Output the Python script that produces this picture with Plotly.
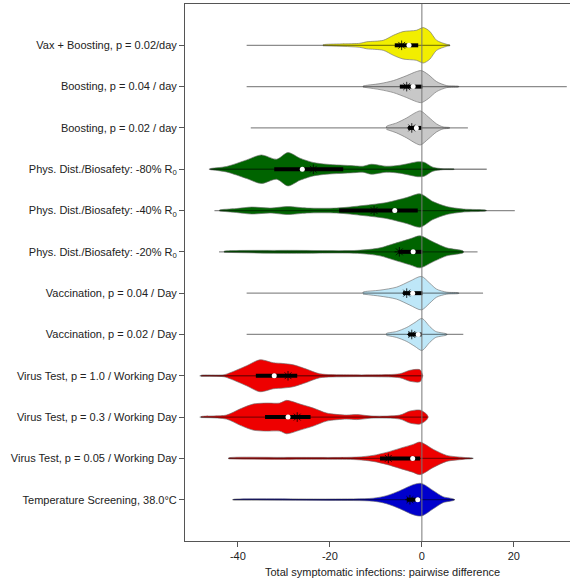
import plotly.graph_objects as go

# ---------------- data ----------------
labels = [
    "Vax + Boosting, p = 0.02/day",
    "Boosting, p = 0.04 / day",
    "Boosting, p = 0.02 / day",
    "Phys. Dist./Biosafety: -80% R<sub>0</sub>",
    "Phys. Dist./Biosafety: -40% R<sub>0</sub>",
    "Phys. Dist./Biosafety: -20% R<sub>0</sub>",
    "Vaccination, p = 0.04 / Day",
    "Vaccination, p = 0.02 / Day",
    "Virus Test, p = 1.0 / Working Day",
    "Virus Test, p = 0.3 / Working Day",
    "Virus Test, p = 0.05 / Working Day",
    "Temperature Screening, 38.0°C",
]
colors = ["#F2EE00", "#C8C8C8", "#C8C8C8", "#006400", "#006400", "#006400",
          "#BEE7F8", "#BEE7F8", "#EE0000", "#EE0000", "#EE0000", "#0000CC"]

# density profiles: x positions and relative density (peak ~ 17)
prof_x = [
    [-21.5, -13.5, -12, -8.4, -6.2, -4.1, -1.2, 0.3, 1.7, 3.2, 5.4, 6.1],
    [-12.8, -9.1, -6.2, -3.3, -1.2, -0.1, 1.4, 3.2, 5.4, 8],
    [-7.7, -5.5, -3.3, -1.5, -0.3, 1.4, 3.2, 4.6, 6],
    [-46, -42.5, -38.1, -34.9, -31.6, -29.1, -26.5, -23.6, -20.7, -14.9, -12.8, -11, -7.7, -4.8, -2.6, -0.9, 0.5, 2.4, 4.6, 7],
    [-44, -40.3, -37, -33, -29.1, -25, -18.5, -12.8, -7.7, -3.3, -0.4, 2.4, 5.4, 9, 14],
    [-43, -30, -14, -9.1, -6.2, -2.6, -0.4, 2.4, 5.4, 9],
    [-12.8, -9.1, -5.5, -2.6, -0.1, 1.7, 3.2, 5.4, 8],
    [-7.7, -5.5, -3.3, -1.5, 0, 1.7, 3, 5.4],
    [-48, -43, -41.7, -38.1, -35.2, -32.3, -30.2, -28, -25.1, -22.2, -16.4, -10, -4.8, -2.6, -0.4, 0.2],
    [-48, -42.5, -39.6, -36.7, -33.8, -30.9, -29.4, -26.5, -23.6, -20.7, -16.4, -14.2, -10.6, -4.8, -2.6, -0.4, 1.0, 1.4],
    [-42, -30, -14.2, -10.6, -7.7, -4.8, -1.9, -0.4, 2.5, 5.4, 9, 11],
    [-41, -20, -10.6, -7.7, -4.8, -1.9, -0.1, 2.5, 4.6, 7],
]
prof_d = [
    [0.5, 2, 3.5, 5, 10, 13.7, 15, 17.7, 14, 5, 1, 0.3],
    [0.5, 3, 6, 11, 15, 16, 12, 5, 1, 0.3],
    [1.5, 5, 10, 15, 17, 11, 4, 1, 0.3],
    [0.5, 2.7, 9.3, 14.3, 10, 16.7, 11, 6.7, 5, 3.5, 3, 5, 3, 4, 6, 7.5, 7, 2, 0.5, 0.2],
    [0.5, 2, 3.5, 2.5, 4, 2.5, 2.5, 5, 8, 13, 16.7, 9, 4, 1.5, 0.3],
    [0.5, 1.5, 1.5, 4, 8, 13, 16, 10, 4, 0.8],
    [1, 3, 6, 12, 16.7, 10, 4, 1, 0.3],
    [1, 3, 7, 12, 16, 8, 3, 0.5],
    [0.5, 1, 3, 10, 16, 13, 12.3, 11, 6.7, 2, 1, 1, 2, 5.5, 6, 0],
    [0.5, 2, 8, 13, 14, 14, 16.7, 13, 9, 4, 2, 2.5, 1, 2, 6, 7, 3, 0],
    [0.5, 1, 1.3, 3, 6, 10, 14, 16.3, 9, 3, 1, 0.2],
    [0.3, 0.7, 1.5, 4, 9, 15, 16.3, 9, 3, 0.5],
]
mins = [-38.1, -38.1, -37.2, -46.3, -45.1, -44.1, -38.1, -38.1, -48.3, -48.3, -42.1, -41.2]
maxs = [6.1, 31.5, 10.0, 14.1, 20.2, 12.1, 13.3, 9.0, 0.1, 1.2, 11.2, 7.2]
q1s = [-5.9, -4.8, -3.0, -32.1, -18.0, -5.1, -4.1, -3.0, -36.1, -34.1, -9.1, -3.3]
q3s = [-0.8, 0.1, -0.1, -17.1, -0.9, 0.1, 0.1, 0.0, -27.1, -24.2, -0.4, -0.4]
medians = [-2.8, -1.9, -1.2, -26.0, -5.9, -1.9, -2.0, -0.8, -32.1, -29.1, -2.0, -0.9]
means = [-4.4, -3.3, -2.2, -23.6, -10.4, -4.9, -3.3, -2.2, -29.1, -27.1, -7.3, -2.6]

x_ticks = [-40, -20, 0, 20]
x_title = "Total symptomatic infections: pairwise difference"

# ---------------- figure ----------------
FONT = "Liberation Sans, Arial, Helvetica, sans-serif"
SCALE = 1 / 41.3  # density units -> row units
fig = go.Figure()

for i, lab in enumerate(labels):
    xs = prof_x[i]
    ds = prof_d[i]
    up = [i - d * SCALE for d in ds]
    lo = [i + d * SCALE for d in ds]
    px = [xs[0]] + xs + xs[::-1]
    py = [i] + up + lo[::-1]
    fig.add_trace(go.Scatter(x=px, y=py, mode="lines", fill="toself",
                             fillcolor=colors[i],
                             line=dict(color="rgba(110,110,110,0.8)", width=0.8, shape="spline", smoothing=0.8),
                             hoverinfo="skip", showlegend=False))
    fig.add_trace(go.Scatter(x=[mins[i], maxs[i]], y=[i, i], mode="lines",
                             line=dict(color="rgba(0,0,0,0.45)", width=1.3),
                             hoverinfo="skip", showlegend=False))

bx, by = [], []
for i in range(len(labels)):
    bx += [q1s[i], q3s[i], None]
    by += [i, i, None]
fig.add_trace(go.Scatter(x=bx, y=by, mode="lines", line=dict(color="black", width=4),
                         hoverinfo="skip", showlegend=False))
fig.add_trace(go.Scatter(x=means, y=list(range(len(labels))), mode="markers",
                         marker=dict(symbol="asterisk-open", size=8, color="black",
                                     line=dict(color="black", width=0.8)),
                         hoverinfo="skip", showlegend=False))
fig.add_trace(go.Scatter(x=medians, y=list(range(len(labels))), mode="markers",
                         marker=dict(symbol="circle", size=5, color="white",
                                     line=dict(width=0)),
                         hoverinfo="skip", showlegend=False))

fig.add_shape(type="line", xref="x", yref="paper", x0=0, x1=0, y0=0, y1=1,
              line=dict(color="#777777", width=1), layer="above")

fig.add_annotation(text=x_title, xref="paper", yref="paper", x=0.514, y=0,
                   yshift=-23, xanchor="center", yanchor="top", showarrow=False,
                   font=dict(family=FONT, size=11, color="#222222"))

fig.update_layout(
    width=570, height=582,
    margin=dict(l=185, r=0, t=4, b=41),
    paper_bgcolor="white", plot_bgcolor="white",
    font=dict(family=FONT, size=11, color="#222222"),
    showlegend=False,
    xaxis=dict(range=[-51.5, 32.2], tickvals=x_ticks, ticktext=[str(t) for t in x_ticks],
               showgrid=False, zeroline=False, showline=True, linecolor="#555555",
               linewidth=1, mirror=True, ticks="outside", ticklen=5, tickcolor="#555555",
               tickfont=dict(family=FONT, size=11, color="#222222")),
    yaxis=dict(range=[12, -1], tickvals=list(range(len(labels))), ticktext=labels,
               showgrid=False, zeroline=False, showline=True, linecolor="#555555",
               linewidth=1, ticks="outside", ticklen=5, tickcolor="#555555",
               tickfont=dict(family=FONT, size=11, color="#222222")),
)

fig.write_html("out.html", config={"displayModeBar": False},
               post_script="document.body.style.margin='0';document.body.style.overflow='hidden';")
